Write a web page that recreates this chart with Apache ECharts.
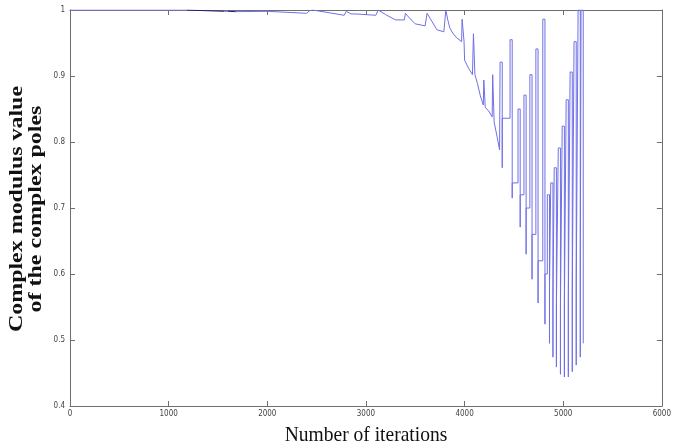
<!DOCTYPE html>
<html>
<head>
<meta charset="utf-8">
<title>Complex modulus value of the complex poles</title>
<script src="https://cdn.jsdelivr.net/npm/echarts@6/dist/echarts.min.js"></script>
<style>
  html, body { margin: 0; padding: 0; background: #fff; }
  #chart { width: 674px; height: 446px; }
</style>
</head>
<body>
<div id="chart"></div>
<script>
// axis ticks
const xTicks = [0, 1000, 2000, 3000, 4000, 5000, 6000]
const yTicks = [0.4, 0.5, 0.6, 0.7, 0.8, 0.9, 1]

// slow part of the run: flat near 1, then a sawtooth decay just below it
const earlyIter = [
  0, 1180, 1190, 1560, 1600, 1680, 1700,
  2000, 2400, 2430, 2460, 2780, 2800, 2850, 2900, 2920, 3100, 3125, 3200, 3300, 3390,
  3400, 3440, 3500, 3600, 3620, 3660, 3720, 3790, 3810, 3830, 3850, 3880, 3920, 3970,
  3975, 3990, 3995, 4000, 4040, 4080, 4090, 4090, 4105, 4105, 4130, 4160, 4190,
  4195, 4210, 4210, 4240, 4280, 4285, 4300, 4300, 4330, 4355
]
const earlyModulus = [
  1.0, 1.0, 0.998, 0.998, 0.998, 0.9975, 0.998,
  0.998, 0.995, 0.999, 1.0, 0.992, 0.998, 0.994, 0.994, 0.992, 0.992, 1.0, 0.993, 0.985, 0.985,
  0.995, 0.988, 0.979, 0.976, 0.995, 0.985, 0.970, 0.967, 1.0, 0.985, 0.973, 0.965, 0.958, 0.952,
  0.986, 0.986, 0.952, 0.924, 0.912, 0.902, 0.902, 0.964, 0.964, 0.902, 0.889, 0.870, 0.856,
  0.894, 0.894, 0.852, 0.848, 0.838, 0.902, 0.902, 0.830, 0.808, 0.788
]

// oscillating part: each swing goes up to a top and down to a bottom
const swingIter = [4360, 4461, 4542, 4602, 4662, 4723, 4793, 4839, 4874, 4909, 4950, 4990, 5030, 5070, 5110, 5151, 5181]
const swingTop = [0.921, 0.955, 0.850, 0.871, 0.902, 0.941, 0.986, 0.720, 0.738, 0.761, 0.791, 0.824, 0.864, 0.906, 0.952, 1.0, 1.0]
const swingBottom = [0.761, 0.715, 0.671, 0.630, 0.592, 0.556, 0.524, 0.495, 0.474, 0.459, 0.448, 0.444, 0.444, 0.452, 0.462, 0.474, 0.495]
const swingLink = [0.788, 0.836, 0.738, 0.72, 0.70, 0.66, 0.62, 0.60, 0.58, 0.56, 0.55, 0.55, 0.55, 0.56, 0.57, 0.58, 0.60]
const swingWidth = 22

const points = earlyIter.map((x, i) => [x, earlyModulus[i]])
swingIter.forEach((x, i) => {
  points.push([x, swingLink[i]], [x, swingTop[i]], [x + swingWidth, swingTop[i]], [x + swingWidth, swingBottom[i]])
  if (i + 1 < swingIter.length) points.push([x + swingWidth, swingLink[i + 1]])
})

const chart = echarts.init(document.getElementById('chart'))

const axisColor = '#6e6e6e'
const lineColor = '#6f6fe6'
const tickFont = { fontSize: 8, color: '#444', fontFamily: 'Liberation Sans Narrow, DejaVu Sans Condensed, sans-serif' }

const xAxisBase = {
  type: 'value',
  min: xTicks[0],
  max: xTicks[xTicks.length - 1],
  interval: 1000,
  axisLine: { show: true, onZero: false, lineStyle: { color: axisColor, width: 1 } },
  axisTick: { show: true, inside: true, length: 5, lineStyle: { color: axisColor } },
  splitLine: { show: false }
}
const yAxisBase = {
  type: 'value',
  min: yTicks[0],
  max: yTicks[yTicks.length - 1],
  interval: 0.1,
  axisLine: { show: true, onZero: false, lineStyle: { color: axisColor, width: 1 } },
  axisTick: { show: true, inside: true, length: 5, lineStyle: { color: axisColor } },
  splitLine: { show: false }
}

const option = {
  animation: false,
  backgroundColor: '#fff',
  grid: { left: 70, right: 8, top: 10, bottom: 40 },
  // the dense stretch near 1 reads as a dark band in the original
  visualMap: {
    show: false,
    type: 'piecewise',
    dimension: 0,
    pieces: [
      { gte: 1185, lte: 1560, color: '#1f1f78' },
      { gte: 1600, lte: 1680, color: '#1f1f78' }
    ],
    outOfRange: { color: lineColor }
  },
  xAxis: [
    Object.assign({}, xAxisBase, {
      position: 'bottom',
      axisLabel: Object.assign({ margin: 4, formatter: v => String(v) }, tickFont)
    }),
    Object.assign({}, xAxisBase, { position: 'top', axisLabel: { show: false } })
  ],
  yAxis: [
    Object.assign({}, yAxisBase, {
      position: 'left',
      axisLabel: Object.assign({ margin: 5, formatter: v => (Math.abs(v - 1) < 1e-9 ? '1' : v.toFixed(1)) }, tickFont)
    }),
    Object.assign({}, yAxisBase, { position: 'right', axisLabel: { show: false } })
  ],
  graphic: [
    {
      type: 'text', x: 366, y: 435, scaleX: 0.93,
      style: {
        text: 'Number of iterations',
        font: '21px "Liberation Serif", serif',
        fill: '#111', textAlign: 'center', textVerticalAlign: 'middle'
      }
    },
    {
      type: 'text', x: 17, y: 209, rotation: Math.PI / 2, scaleX: 1.26,
      style: {
        text: 'Complex modulus value',
        font: 'bold 19px "Liberation Serif", serif',
        fill: '#111', textAlign: 'center', textVerticalAlign: 'middle'
      }
    },
    {
      type: 'text', x: 36, y: 209, rotation: Math.PI / 2, scaleX: 1.26,
      style: {
        text: 'of the complex poles',
        font: 'bold 19px "Liberation Serif", serif',
        fill: '#111', textAlign: 'center', textVerticalAlign: 'middle'
      }
    }
  ],
  series: [
    {
      type: 'line',
      xAxisIndex: 0,
      yAxisIndex: 0,
      data: points,
      showSymbol: false,
      symbol: 'none',
      lineStyle: { width: 1 },
      z: 3
    }
  ]
}

chart.setOption(option)
</script>
</body>
</html>
